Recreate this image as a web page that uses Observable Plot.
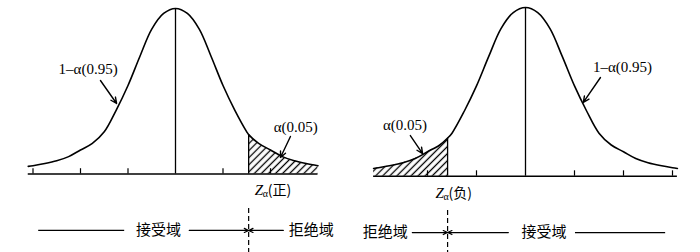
<!DOCTYPE html>
<html><head><meta charset="utf-8">
<script src="https://cdn.jsdelivr.net/npm/d3@7"></script>
<script src="https://cdn.jsdelivr.net/npm/@observablehq/plot@0.6"></script>
<style>
html,body{margin:0;padding:0;background:#fff;}
#wrap{display:flex;width:700px;height:252px;overflow:hidden;background:#fff;}
#wrap svg{display:block;}
</style></head><body>
<svg width="0" height="0" style="position:absolute">
<defs><pattern id="hatch" patternUnits="userSpaceOnUse" width="5" height="5" patternTransform="rotate(45)"><line x1="2.5" y1="-1" x2="2.5" y2="6" stroke="#000" stroke-width="1.3"/></pattern></defs></svg>
<div id="wrap"></div>
<script>
// z positions (in tick units) and curve heights
const zGrid   = [-3.1, -3, -2.75, -2.5, -2.25, -2, -1.75, -1.5, -1.25, -1, -0.75, -0.5, -0.25, 0, 0.25, 0.5, 0.75, 1, 1.25, 1.5, 1.75, 2, 2.25, 2.5, 2.75, 3, 3.1];
const density = [0.046, 0.05, 0.063, 0.08, 0.105, 0.145, 0.185, 0.255, 0.385, 0.535, 0.71, 0.875, 0.97, 1, 0.97, 0.875, 0.71, 0.535, 0.385, 0.255, 0.185, 0.145, 0.105, 0.08, 0.063, 0.05, 0.046];

// critical values
const leftCrit  = {z: 1.54, d: 0.238};
const rightCrit = {z: -1.59, d: 0.226};

// tick marks
const leftTicks  = [-3, -2, -1, 1, 2];
const rightTicks = [-2, -1, 1, 2, 3];

// labels
const labelConf  = "1–α(0.95)";
const labelAlpha = "α(0.05)";
const labelAccept = "接受域";
const labelReject = "拒绝域";
const labelPos = "(正)";
const labelNeg = "(负)";

const serif = "'Liberation Serif', 'DejaVu Serif', serif";
const cjk = "'Noto Sans CJK SC', sans-serif";

function panel(p) {
  const pts = zGrid.map((z, i) => ({z, d: density[i]}))
    .filter(d => d.z >= p.zMin && d.z <= p.zMax)
    .concat([{z: p.crit.z, d: p.crit.d}])
    .sort((a, b) => a.z - b.z);
  const tail = pts.filter(d => p.crit.z > 0 ? d.z >= p.crit.z : d.z <= p.crit.z);
  const vb = p.bottomY;
  return Plot.plot({
    width: 350, height: 252, margin: 0,
    x: {type: "linear", domain: [0, 1], range: [175, 175 + p.unit], axis: null},
    y: {type: "linear", domain: [0, 1], range: [p.base, p.top], axis: null},
    style: {background: "#fff", overflow: "visible"},
    marks: [
      Plot.areaY(tail, {x: "z", y: "d", curve: "catmull-rom", fill: "url(#hatch)"}),
      Plot.line(pts, {x: "z", y: "d", curve: "catmull-rom", stroke: "#000", strokeWidth: 1.6}),
      Plot.ruleY([0], {x1: pts[0].z, x2: pts[pts.length - 1].z, stroke: "#000", strokeWidth: 1.6}),
      Plot.ruleX(p.ticks, {x: d => d, y1: 0, y2: 0.032, stroke: "#000", strokeWidth: 1.2}),
      Plot.ruleX([0], {y1: 0, y2: 1, stroke: "#000", strokeWidth: 1.3}),
      Plot.ruleX([p.crit], {x: "z", y1: 0, y2: "d", stroke: "#000", strokeWidth: 1.3}),
      // labels & pointer arrows
      Plot.text(p.labels, {x: "z", y: "v", text: "t", fontSize: 15, fontFamily: serif, fill: "#000"}),
      Plot.arrow(p.pointers, {x1: "z1", y1: "v1", x2: "z2", y2: "v2", stroke: "#000", strokeWidth: 1.4, headLength: 7, headAngle: 50}),
      // Z_alpha label
      Plot.text([p.crit], {x: "z", y: -0.1, text: () => "Z", dx: p.zdx, textAnchor: "start", fontSize: 15, fontStyle: "italic", fontFamily: serif}),
      Plot.text([p.crit], {x: "z", y: -0.12, text: () => "α", dx: p.zdx + 8, textAnchor: "start", fontSize: 10, fontFamily: serif}),
      Plot.text([p.crit], {x: "z", y: -0.1, text: () => p.sign, dx: p.zdx + 13, textAnchor: "start", fontSize: 14, fontFamily: cjk}),
      // bottom region annotation
      Plot.ruleX([p.crit], {x: "z", y1: p.dashTop, y2: -0.5, stroke: "#000", strokeWidth: 1.2, strokeDasharray: "5,3"}),
      Plot.ruleY([vb], {x1: p.plain[0], x2: p.plain[1], stroke: "#000", strokeWidth: 1.2}),
      Plot.arrow(p.regionArrows, {x1: d => d, y1: vb, x2: p.crit.z, y2: vb, stroke: "#000", strokeWidth: 1.2, headLength: 6, headAngle: 50}),
      Plot.text(p.regionLabels, {x: "z", y: vb, text: "t", fontSize: 15, fontFamily: cjk, fill: "#000"})
    ]
  });
}

const left = panel({
  unit: 47.5, base: 173.5, top: 8, zMin: -3.1, zMax: 3.0,
  crit: leftCrit, ticks: leftTicks, sign: labelPos, zdx: 6,
  labels: [{t: labelConf, z: -1.84, v: 0.631}, {t: labelAlpha, z: 2.53, v: 0.281}],
  pointers: [{z1: -1.58, v1: 0.565, z2: -1.24, v2: 0.426}, {z1: 2.42, v1: 0.227, z2: 2.21, v2: 0.10}],
  bottomY: -0.341, dashTop: -0.208,
  plain: [-2.88, -1.07],
  regionArrows: [0.29, 2.27],
  regionLabels: [{t: labelAccept, z: -0.36}, {t: labelReject, z: 2.86}]
});
const right = panel({
  unit: 49, base: 175.7, top: 7, zMin: -3.1, zMax: 3.1,
  crit: rightCrit, ticks: rightTicks, sign: labelNeg, zdx: -12,
  labels: [{t: labelConf, z: 1.98, v: 0.644}, {t: labelAlpha, z: -2.46, v: 0.30}],
  pointers: [{z1: 1.53, v1: 0.585, z2: 1.18, v2: 0.437}, {z1: -2.35, v1: 0.241, z2: -2.10, v2: 0.134}],
  bottomY: -0.334, dashTop: -0.203,
  plain: [1.02, 2.86],
  regionArrows: [-2.31, -0.35],
  regionLabels: [{t: labelReject, z: -2.86}, {t: labelAccept, z: 0.38}]
});
document.getElementById("wrap").append(left, right);
</script>
</body></html>
